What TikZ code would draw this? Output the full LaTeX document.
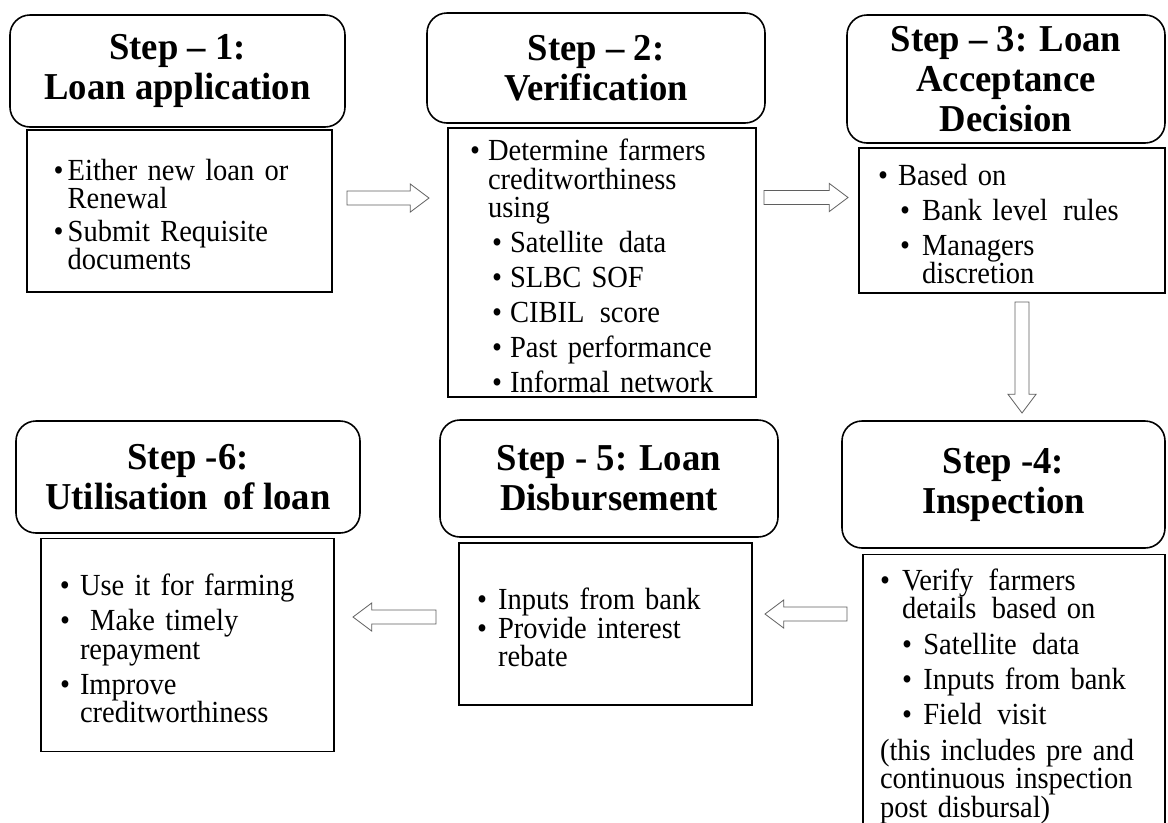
\documentclass[tikz,border=0pt]{standalone}
\usepackage{fontspec}
\setmainfont{Liberation Serif}
\newfontfamily\bodyfam[Ligatures=TeX,FakeStretch=0.93]{Liberation Serif}
\newfontfamily\titlefam[Ligatures=TeX,FakeStretch=0.965]{Liberation Serif}
\usepackage{xcolor}
\usepackage{enumitem}
\usetikzlibrary{calc}

\definecolor{arrowgray}{RGB}{95,95,95}
\newcommand{\titlefont}{\titlefam\fontsize{28.5}{30}\selectfont\bfseries}
\newcommand{\bodyfont}{\bodyfam\fontsize{23}{21.3}\selectfont}
\setlist[itemize,1]{label=\textbullet,leftmargin=15pt,labelwidth=15pt,labelsep=0pt,align=left,topsep=0pt,partopsep=0pt,parsep=0pt,itemsep=5pt}
\setlist[itemize,2]{label=\textbullet,leftmargin=17pt,labelwidth=15pt,labelsep=0pt,align=left,topsep=5pt,partopsep=0pt,parsep=0pt,itemsep=5pt}

\begin{document}
\begin{tikzpicture}[x=0.75pt,y=0.75pt,yscale=-1,xscale=1,
  steptitle/.style={draw, line width=1.2pt, rounded corners=15pt, align=center, font=\titlefont, inner sep=0pt},
  stepbody/.style={draw, line width=1.3pt, align=left, font=\bodyfont, inner ysep=0pt},
  blockarrow/.style={draw=arrowgray, line width=0.6pt, fill=white, to path={
    ($(\tikztostart)!5.25pt!90:(\tikztotarget)$)
    -- ($($(\tikztotarget)!14pt!(\tikztostart)$)!5.25pt!90:(\tikztotarget)$)
    -- ($($(\tikztotarget)!14pt!(\tikztostart)$)!10.5pt!90:(\tikztotarget)$)
    -- (\tikztotarget)
    -- ($($(\tikztotarget)!14pt!(\tikztostart)$)!10.5pt!-90:(\tikztotarget)$)
    -- ($($(\tikztotarget)!14pt!(\tikztostart)$)!5.25pt!-90:(\tikztotarget)$)
    -- ($(\tikztostart)!5.25pt!-90:(\tikztotarget)$) -- cycle}}]

\useasboundingbox (0,0) rectangle (1168,822);

% titles
\node [steptitle, minimum width=251.25pt, minimum height=84pt] (title1) at (177.5,71) {Step -- 1:\\Loan application};
\node [steptitle, minimum width=253.5pt, minimum height=82.5pt] (title2) at (596,68) {Step -- 2:\\Verification};
\node [steptitle, minimum width=238.5pt, minimum height=96pt] (title3) at (1006,79) {Step -- 3: Loan\\Acceptance\\Decision};
\node [steptitle, minimum width=242.25pt, minimum height=95.25pt] (title4) at (1003.5,484.5) {Step -4:\\Inspection};
\node [steptitle, minimum width=253.5pt, minimum height=87.75pt] (title5) at (609,478.5) {Step - 5: Loan\\Disbursement};
\node [steptitle, minimum width=258pt, minimum height=84pt] (title6) at (188,477) {Step -6:\\Utilisation\, of loan};

% bodies
\node [stepbody, minimum width=228.75pt, minimum height=121.5pt, inner xsep=20pt, text width=188.75pt] (body1) at (179.5,211) {%
  \begin{itemize}[leftmargin=10.5pt,labelwidth=10.5pt,itemsep=3pt]
  \item Either new loan or\newline Renewal
  \item Submit Requisite\newline documents
  \end{itemize}};
\node [stepbody, minimum width=231pt, minimum height=201.75pt, inner xsep=16.5pt, text width=198pt] (body2) at (602,262.5) {%
  \begin{itemize}[leftmargin=13.5pt,labelwidth=13.5pt]
  \item Determine farmers\newline creditworthiness\newline using
    \begin{itemize}[leftmargin=16.5pt,labelwidth=13.5pt]
    \item Satellite\, data
    \item SLBC SOF
    \item CIBIL\, score
    \item Past performance
    \item Informal network
    \end{itemize}
  \end{itemize}};
\node [stepbody, minimum width=229.5pt, minimum height=108.75pt, inner xsep=14.25pt, text width=201pt] (body3) at (1012,220.5) {%
  \begin{itemize}
  \item Based on
    \begin{itemize}[leftmargin=18pt,labelwidth=16.5pt]
    \item Bank level\, rules
    \item Managers\newline discretion
    \end{itemize}
  \end{itemize}};
\node [stepbody, minimum width=226.5pt, minimum height=207.75pt, inner xsep=12.75pt, text width=201pt] (body4) at (1014,693) {%
  \begin{itemize}[leftmargin=16.5pt,labelwidth=16.5pt]
  \item Verify\, farmers\newline details\, based on
    \begin{itemize}[leftmargin=16pt,labelwidth=16pt]
    \item Satellite\, data
    \item Inputs from bank
    \item Field\, visit
    \end{itemize}
  \end{itemize}
  \vspace{1pt}\noindent(this includes pre and\newline continuous inspection\newline post disbursal)};
\node [stepbody, minimum width=219.75pt, minimum height=121.5pt, inner xsep=13.5pt, text width=192.75pt] (body5) at (605.5,624) {%
  \begin{itemize}[leftmargin=15.75pt,labelwidth=15.75pt,itemsep=0pt]
  \item Inputs from bank
  \item Provide interest\newline rebate
  \end{itemize}};
\node [stepbody, minimum width=219.75pt, minimum height=159.75pt, inner xsep=14.25pt, text width=191.25pt] (body6) at (187.5,645) {%
  \begin{itemize}
  \item Use it for farming
  \item \ Make timely\newline repayment
  \item Improve\newline creditworthiness
  \end{itemize}};

% arrows
\coordinate (a12s) at (347,198);
\coordinate (a12e) at (429,198);
\coordinate (a23s) at (764,197.5);
\coordinate (a23e) at (848,197.5);
\coordinate (a34s) at (1022,302);
\coordinate (a34e) at (1022,413);
\coordinate (a45s) at (847,614);
\coordinate (a45e) at (765,614);
\coordinate (a56s) at (436,617);
\coordinate (a56e) at (353,617);
\draw [blockarrow] (a12s) to (a12e);
\draw [blockarrow] (a23s) to (a23e);
\draw [blockarrow] (a34s) to (a34e);
\draw [blockarrow] (a45s) to (a45e);
\draw [blockarrow] (a56s) to (a56e);

\end{tikzpicture}
\end{document}
